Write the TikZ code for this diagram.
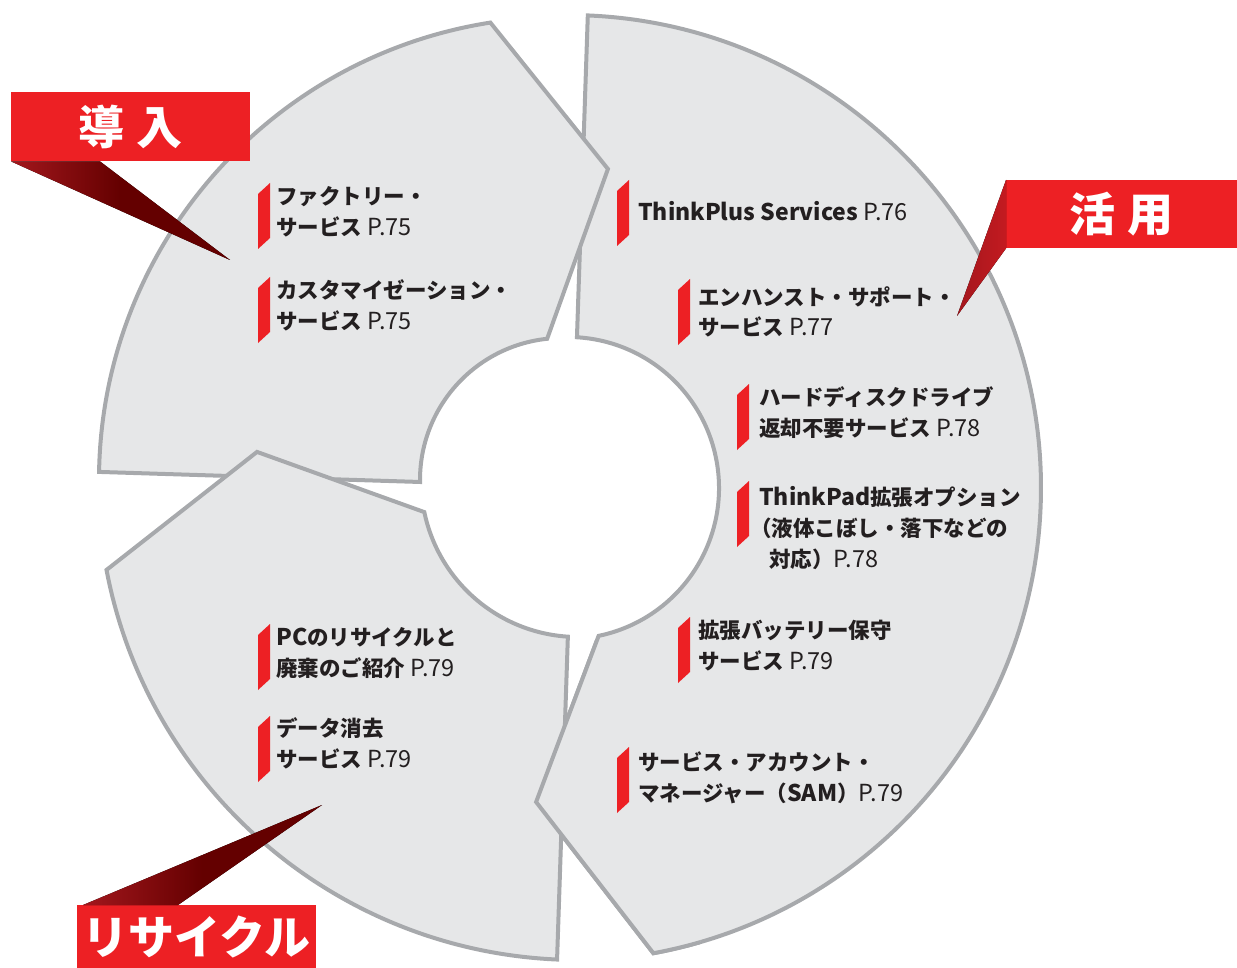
\documentclass[tikz,border=0pt]{standalone}
\usepackage{fontspec}
\setmainfont{Noto Sans CJK JP}
\usetikzlibrary{calc}

\definecolor{tagred}{HTML}{ED2024}
\definecolor{segfill}{HTML}{E6E7E8}
\definecolor{segline}{HTML}{A7A9AC}
\definecolor{inkgray}{HTML}{231F20}
\definecolor{ptrlight}{HTML}{A3171D}
\definecolor{ptrdark}{HTML}{640000}
\definecolor{ptrwarm}{HTML}{C31A20}

\newcommand{\pref}[1]{{\mdseries\fontsize{23.5}{31}\selectfont P.#1}}
\newcommand{\lat}[1]{{\fontsize{23}{31}\selectfont #1}}
\newcommand{\tagbar}[2]{\fill[tagred] (#1,-#2-11) -- (#1+12,-#2) -- (#1+12,-#2-55) -- (#1,-#2-66) -- cycle;}

\begin{document}
\begin{tikzpicture}[
    x=1pt, y=1pt,
    seg/.style={fill=segfill, draw=segline, line width=4pt, line join=miter},
    tagbox/.style={fill=tagred, text=white, inner sep=0pt, anchor=north west, font=\bfseries\fontsize{46}{46}\selectfont},
    item/.style={anchor=base west, align=left, inner sep=0pt, text=inkgray, font=\bfseries\fontsize{21.5}{31}\selectfont},
    pointer/.style={left color=ptrlight, right color=ptrdark, middle color=ptrdark}
]
\useasboundingbox (0,0) rectangle (1237,-968);
\coordinate (cR) at (568,-488);
\coordinate (cT) at (562,-480);
\coordinate (cL) at (578,-480);

% ring segments
\path[seg] ($(cR)+(87.6:473)$) arc[start angle=87.6, end angle=-79.6, radius=473]
    -- ($(cR)+(-95.8:315.6)$) -- ($(cR)+(-78.3:151)$) arc[start angle=-78.3, end angle=86.6, radius=151] -- cycle;
\path[seg] ($(cT)+(98.9:463)$) arc[start angle=98.9, end angle=179, radius=463]
    -- ($(cT)+(180.8:142)$) arc[start angle=180.8, end angle=96, radius=142] -- ($(cT)+(81.6:314.4)$) -- cycle;
\path[seg] ($(cL)+(190.8:480)$) arc[start angle=190.8, end angle=267.5, radius=480]
    -- ($(cL)+(266.3:157)$) arc[start angle=266.3, end angle=191.8, radius=157] -- ($(cL)+(175:322.2)$) -- cycle;
\begin{scope}
\clip (500,-640) rectangle (700,-968);
\path[seg] ($(cR)+(87.6:473)$) arc[start angle=87.6, end angle=-79.6, radius=473]
    -- ($(cR)+(-95.8:315.6)$) -- ($(cR)+(-78.3:151)$) arc[start angle=-78.3, end angle=86.6, radius=151] -- cycle;
\end{scope}

% items (anchored at the baseline of the last line)
\node[item] (factory) at (276,-236) {ファクトリー・\\サービス \pref{75}};
\node[item] (custom) at (276,-330) {カスタマイゼーション・\\サービス \pref{75}};
\node[item] (thinkplus) at (638,-221) {\lat{ThinkPlus Services} \pref{76}};
\node[item] (enhanced) at (698,-336) {エンハンスト・サポート・\\サービス \pref{77}};
\node[item] (hdd) at (759,-436) {ハードディスクドライブ\\返却不要サービス \pref{78}};
\node[item] (option) at (759,-567) {\lat{ThinkPad}拡張オプション\\\hspace{-9pt}（液体こぼし・落下などの\\\hspace{10pt}対応）\pref{78}};
\node[item] (battery) at (698,-669) {拡張バッテリー保守\\サービス \pref{79}};
\node[item] (sam) at (638,-801) {サービス・アカウント・\\マネージャー（\lat{SAM}）\pref{79}};
\node[item] (pcrecycle) at (276,-676) {\lat{PC}のリサイクルと\\廃棄のご紹介 \pref{79}};
\node[item] (erase) at (276,-767) {データ消去\\サービス \pref{79}};
\tagbar{258}{183}
\tagbar{258}{277}
\tagbar{617}{180}
\tagbar{678}{279}
\tagbar{737}{384}
\tagbar{737}{481}
\tagbar{678}{617}
\tagbar{617}{747}
\tagbar{258}{624}
\tagbar{258}{716}

% phase labels
\node[tagbox, minimum width=239pt, minimum height=69pt] (intro) at (11,-92) {導\hspace{12pt}入};
\node[tagbox, minimum width=231pt, minimum height=68pt] (use) at (1006,-180) {活\hspace{12pt}用};
\node[tagbox, minimum width=239pt, minimum height=63pt] (recycle) at (77,-905) {リサイクル};
\coordinate (introtip) at (230,-260);
\coordinate (usetip) at (957,-316);
\coordinate (recytip) at (322,-805);
\fill[pointer] (intro.south west) -- ([xshift=89pt]intro.south west) -- (introtip) -- cycle;
\fill[left color=ptrlight, right color=ptrwarm] (use.north west) -- (use.south west) -- (usetip) -- cycle;
\fill[pointer] ([xshift=6pt]recycle.north west) -- ([xshift=101pt]recycle.north west) -- (recytip) -- cycle;
\end{tikzpicture}
\end{document}
